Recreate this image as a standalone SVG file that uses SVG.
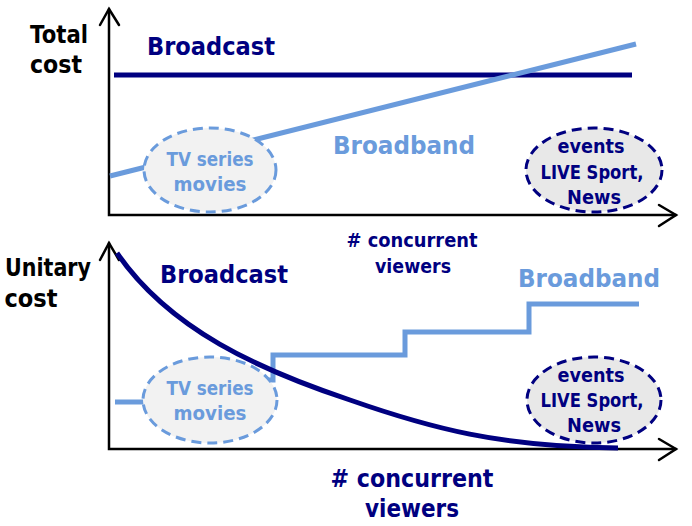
<svg xmlns="http://www.w3.org/2000/svg" width="692" height="526" viewBox="0 0 692 526">
  <style>
    text { font-family: "DejaVu Sans", "Open Sans", sans-serif; font-weight: 700; text-anchor: middle; }
    .axis { fill: none; stroke: #000; stroke-width: 2.5; stroke-linecap: round; stroke-linejoin: miter; }
    .bc { fill: none; stroke: #000080; stroke-width: 5; }
    .bb { fill: none; stroke: #6A9BDC; stroke-width: 5; }
    .cloud-lo { fill: #F2F2F2; stroke: #6A9BDC; stroke-width: 3; stroke-dasharray: 10 6; }
    .cloud-hi { fill: #E8E8E8; stroke: #000080; stroke-width: 3; stroke-dasharray: 10 6; }
    .t-black { fill: #000; }
    .t-navy { fill: #000080; }
    .t-blue { fill: #6A9BDC; }
  </style>

  <!-- upper chart: total cost -->
  <g id="total-axes">
    <path class="axis" d="M109,9 V215 H676"/>
    <path class="axis" d="M100,25 L109,9 L119,25"/>
    <path class="axis" d="M659,205 L676,215 L659,226"/>
  </g>
  <g id="total-curves">
    <path class="bc" d="M114,75 H632"/>
    <path class="bb" d="M110,176 L636,44" stroke-width="6"/>
  </g>
  <g id="total-tv">
    <ellipse class="cloud-lo" cx="210" cy="170" rx="66" ry="42"/>
    <text class="t-blue" x="210" y="166" font-size="20" textLength="87" lengthAdjust="spacingAndGlyphs">TV series</text>
    <text class="t-blue" x="210" y="191" font-size="20" textLength="73" lengthAdjust="spacingAndGlyphs">movies</text>
  </g>
  <g id="total-live">
    <ellipse class="cloud-hi" cx="594" cy="170" rx="68" ry="42"/>
    <text class="t-navy" x="591" y="153" font-size="19.5" textLength="67" lengthAdjust="spacingAndGlyphs">events</text>
    <text class="t-navy" x="592" y="179" font-size="19.5" textLength="103" lengthAdjust="spacingAndGlyphs">LIVE Sport,</text>
    <text class="t-navy" x="594" y="204" font-size="19.5" textLength="54" lengthAdjust="spacingAndGlyphs">News</text>
  </g>
  <g id="total-labels">
    <text class="t-black" x="59" y="43" font-size="25" textLength="58" lengthAdjust="spacingAndGlyphs">Total</text>
    <text class="t-black" x="56" y="73" font-size="25" textLength="52" lengthAdjust="spacingAndGlyphs">cost</text>
    <text class="t-navy" x="211" y="55" font-size="24" textLength="128" lengthAdjust="spacingAndGlyphs">Broadcast</text>
    <text class="t-blue" x="404" y="154" font-size="24" textLength="142" lengthAdjust="spacingAndGlyphs">Broadband</text>
    <text class="t-navy" x="412" y="247" font-size="20" textLength="131" lengthAdjust="spacingAndGlyphs"># concurrent</text>
    <text class="t-navy" x="413" y="273" font-size="20" textLength="76" lengthAdjust="spacingAndGlyphs">viewers</text>
  </g>

  <!-- lower chart: unitary cost -->
  <g id="unit-axes">
    <path class="axis" d="M109,243 V449 H676"/>
    <path class="axis" d="M100,260 L109,243 L119,260"/>
    <path class="axis" d="M659,439 L676,449 L659,460"/>
  </g>
  <g id="unit-curves">
    <path class="bb" d="M115,402 H200 V380 H273 V355 H405 V332 H529 V304 H639"/>
    <path class="bc" d="M117,253 C170,330 260,370 350,400 C430,428 500,447 618,448"/>
  </g>
  <g id="unit-tv">
    <ellipse class="cloud-lo" cx="210" cy="400" rx="67" ry="43"/>
    <text class="t-blue" x="210" y="395" font-size="20" textLength="87" lengthAdjust="spacingAndGlyphs">TV series</text>
    <text class="t-blue" x="210" y="420" font-size="20" textLength="73" lengthAdjust="spacingAndGlyphs">movies</text>
  </g>
  <g id="unit-live">
    <ellipse class="cloud-hi" cx="594" cy="400" rx="67" ry="43"/>
    <text class="t-navy" x="591" y="382" font-size="19.5" textLength="67" lengthAdjust="spacingAndGlyphs">events</text>
    <text class="t-navy" x="592" y="407" font-size="19.5" textLength="103" lengthAdjust="spacingAndGlyphs">LIVE Sport,</text>
    <text class="t-navy" x="594" y="432" font-size="19.5" textLength="54" lengthAdjust="spacingAndGlyphs">News</text>
  </g>
  <g id="unit-labels">
    <text class="t-black" x="48" y="276" font-size="25" textLength="86" lengthAdjust="spacingAndGlyphs">Unitary</text>
    <text class="t-black" x="31" y="307" font-size="25" textLength="53" lengthAdjust="spacingAndGlyphs">cost</text>
    <text class="t-navy" x="224" y="283" font-size="24" textLength="128" lengthAdjust="spacingAndGlyphs">Broadcast</text>
    <text class="t-blue" x="589" y="287" font-size="24" textLength="142" lengthAdjust="spacingAndGlyphs">Broadband</text>
    <text class="t-navy" x="412" y="487" font-size="24" textLength="163" lengthAdjust="spacingAndGlyphs"># concurrent</text>
    <text class="t-navy" x="412" y="517" font-size="24" textLength="94" lengthAdjust="spacingAndGlyphs">viewers</text>
  </g>
</svg>
